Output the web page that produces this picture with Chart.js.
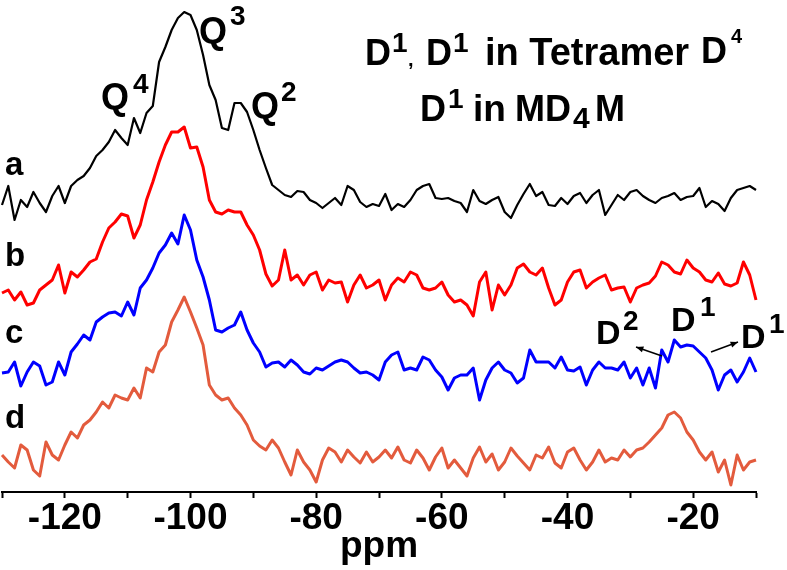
<!DOCTYPE html>
<html>
<head>
<meta charset="utf-8">
<script src="https://cdn.jsdelivr.net/npm/chart.js@4.4.1/dist/chart.umd.min.js"></script>
<style>
  html, body { margin: 0; padding: 0; background: #fff; }
  #wrap { width: 787px; height: 570px; }
</style>
</head>
<body>
<div id="wrap"><canvas id="nmr" width="787" height="570"></canvas></div>
<script>
// chemical shift grid (ppm)
const shifts = [
  -130,-129,-128,-127,-126,-125,-124,-123,-122,-121,
  -120,-119,-118,-117,-116,-115,-114,-113,-112,-111,
  -110,-109,-108,-107,-106,-105,-104,-103,-102,-101,
  -100,-99,-98,-97,-96,-95,-94,-93,-92,-91,
  -90,-89,-88,-87,-86,-85,-84,-83,-82,-81,
  -80,-79,-78,-77,-76,-75,-74,-73,-72,-71,
  -70,-69,-68,-67,-66,-65,-64,-63,-62,-61,
  -60,-59,-58,-57,-56,-55,-54,-53,-52,-51,
  -50,-49,-48,-47,-46,-45,-44,-43,-42,-41,
  -40,-39,-38,-37,-36,-35,-34,-33,-32,-31,
  -30,-29,-28,-27,-26,-25,-24,-23,-22,-21,
  -20,-19,-18,-17,-16,-15,-14,-13,-12,-11,
  -10
];

// intensities (arb. units), relative to its own baseline
const spectrumA = [
  -5,14,-20,0,-7,8,-3,-12,4,14,
  -3,14,20,24,32,44,50,58,70,62,
  55,82,67,87,94,138,153,170,182,188,
  185,170,145,115,100,72,70,97,97,88,
  70,50,32,15,10,5,3,9,8,0,
  -3,-8,-3,2,-5,14,10,-2,-7,-4,
  -6,6,-10,-4,-7,0,10,14,16,2,
  1,2,-1,-3,-12,10,-1,-4,0,3,
  -12,-18,-5,6,16,4,8,-5,-6,2,
  -4,4,7,-3,5,10,-15,-5,5,0,
  8,10,4,0,-3,2,4,7,0,3,
  4,12,-7,-1,-4,-11,2,10,12,14,
  10
];
const spectrumB = [
  -1,2,-8,0,-13,-11,2,7,12,27,
  -1,20,15,22,30,33,50,64,70,78,
  76,54,67,92,110,130,147,160,160,165,
  144,145,125,92,80,78,82,80,80,67,
  57,42,18,6,12,42,12,17,7,17,
  20,2,12,9,10,-10,7,17,4,7,
  12,-8,7,14,10,20,17,4,2,4,
  10,-3,-10,-8,-13,-24,10,20,-18,7,
  -3,7,24,28,20,17,24,4,-13,-8,
  10,20,22,4,10,14,17,2,4,5,
  -10,4,7,9,16,30,27,20,18,32,
  24,20,12,10,19,8,6,9,30,17,
  -8
];
const spectrumC = [
  -1,0,10,-14,0,10,6,-13,-10,10,
  -3,20,28,37,32,50,55,59,60,56,
  70,57,84,92,104,119,127,139,128,157,
  142,112,95,72,42,40,44,47,60,42,
  29,20,5,9,10,5,12,7,0,-2,
  4,2,6,10,12,10,4,-1,0,-3,
  -8,10,17,20,2,4,2,15,12,2,
  -5,-18,-6,-3,-3,4,-28,-8,4,10,
  2,-1,-11,-6,22,10,10,10,4,15,
  2,1,5,-13,2,10,4,4,2,10,
  -6,4,-13,4,-16,22,10,32,25,27,
  26,20,14,2,-18,-3,2,-10,0,14,
  0
];
const spectrumD = [
  2,-5,-11,12,7,-13,-19,15,2,-3,
  12,25,19,32,37,45,55,49,62,59,
  57,69,59,89,85,105,112,135,147,160,
  145,129,112,72,62,57,59,49,42,32,
  17,11,7,17,9,-5,-18,7,-5,-13,
  -25,-3,9,5,-5,7,0,-6,5,-5,
  0,7,-1,10,-3,-6,7,-1,-13,0,
  9,-11,-3,-11,-19,-1,10,-5,3,-13,
  -5,9,1,-6,-13,2,-1,10,-6,-11,
  5,9,-3,-13,-5,7,-5,-1,-3,7,
  0,7,9,15,22,29,42,45,39,25,
  17,5,-3,5,-15,-3,-28,2,-13,-5,
  -3
];

// vertical stacking offsets for the four spectra
const seriesNames = ['a', 'b', 'c', 'd'];
const stackOffsets = [292, 200, 120, 35];
const seriesColors = ['#000000', '#ff0000', '#0000ff', '#e35b3d'];
const seriesWidths = [2.2, 3, 3, 3];
const allSpectra = [spectrumA, spectrumB, spectrumC, spectrumD];

const xTickLabels = [-120, -100, -80, -60, -40, -20];

const FONT = '"Liberation Sans", Arial, sans-serif';

function toPoints(values, offset) {
  return shifts.map((s, i) => ({ x: s, y: values[i] + offset }));
}

const datasets = allSpectra.map((vals, k) => ({
  label: seriesNames[k],
  data: toPoints(vals, stackOffsets[k]),
  borderColor: seriesColors[k],
  borderWidth: seriesWidths[k],
  pointRadius: 0,
  tension: 0,
  borderJoinStyle: 'round',
  fill: false,
  clip: false
}));

// text labels drawn on top of the plot
const annotations = {
  id: 'annotations',
  afterDatasetsDraw(chart) {
    const ctx = chart.ctx;
    ctx.save();
    ctx.fillStyle = '#000';
    ctx.textBaseline = 'alphabetic';
    ctx.textAlign = 'left';
    const txt = (t, x, y, size) => {
      ctx.font = 'bold ' + size + 'px ' + FONT;
      ctx.fillText(t, x, y);
    };
    // trace letters
    txt('a', 5, 175, 33);
    txt('b', 5, 266, 33);
    txt('c', 5, 343, 33);
    txt('d', 5, 428, 33);
    // Q labels
    txt('Q', 101, 109, 36); txt('4', 133, 93, 28);
    txt('Q', 199, 43, 36); txt('3', 230, 25, 28);
    txt('Q', 251, 118, 36); txt('2', 281, 101, 28);
    // header lines
    txt('D', 365, 65, 36); txt('1', 392, 52, 28); txt(',', 408, 66, 20);
    txt('D', 426, 65, 36); txt('1', 453, 52, 28);
    txt('in Tetramer', 485, 65, 38);
    txt('D', 701, 63, 36); txt('4', 731, 43, 20);
    txt('D', 420, 121, 36); txt('1', 448, 108, 28);
    txt('in', 473, 121, 37);
    txt('MD', 515, 121, 36); txt('4', 573, 128, 30); txt('M', 595, 121, 36);
    // D labels near trace c
    txt('D', 596, 344, 34); txt('2', 623, 330, 28);
    txt('D', 671, 331, 34); txt('1', 700, 316, 28);
    txt('D', 741, 348, 34); txt('1', 769, 333, 28);
    // arrows
    const arrow = (x1, y1, x2, y2) => {
      ctx.strokeStyle = '#000';
      ctx.lineWidth = 1.5;
      ctx.beginPath(); ctx.moveTo(x1, y1); ctx.lineTo(x2, y2); ctx.stroke();
      const a = Math.atan2(y2 - y1, x2 - x1);
      ctx.beginPath();
      ctx.moveTo(x2, y2);
      ctx.lineTo(x2 - 8 * Math.cos(a - 0.4), y2 - 8 * Math.sin(a - 0.4));
      ctx.lineTo(x2 - 8 * Math.cos(a + 0.4), y2 - 8 * Math.sin(a + 0.4));
      ctx.closePath(); ctx.fill();
    };
    arrow(662, 356, 636, 347);
    arrow(711, 352, 738, 342);
    ctx.restore();
  }
};

new Chart(document.getElementById('nmr').getContext('2d'), {
  type: 'line',
  data: { datasets: datasets },
  plugins: [annotations],
  options: {
    responsive: false,
    animation: false,
    layout: { padding: { left: 1, right: 31, top: 0, bottom: 0 } },
    plugins: { legend: { display: false }, tooltip: { enabled: false } },
    scales: {
      x: {
        type: 'linear',
        min: -130,
        max: -10,
        afterFit: (scale) => { scale.height = 78; },
        border: { display: true, color: '#000', width: 2 },
        grid: { display: true, drawOnChartArea: false, drawTicks: true, tickLength: 6, color: '#000', tickWidth: 2 },
        ticks: {
          stepSize: 10,
          autoSkip: false,
          maxRotation: 0,
          padding: 2,
          color: '#000',
          font: { family: FONT, size: 37, weight: 'bold', lineHeight: 1 },
          callback: (v) => xTickLabels.includes(v) ? String(v) : ''
        },
        title: {
          display: true,
          text: 'ppm',
          color: '#000',
          font: { family: FONT, size: 37, weight: 'bold', lineHeight: 1 },
          padding: { top: 0, bottom: 5 }
        }
      },
      y: { display: false, min: 0, max: 492 }
    }
  }
});
</script>
</body>
</html>
